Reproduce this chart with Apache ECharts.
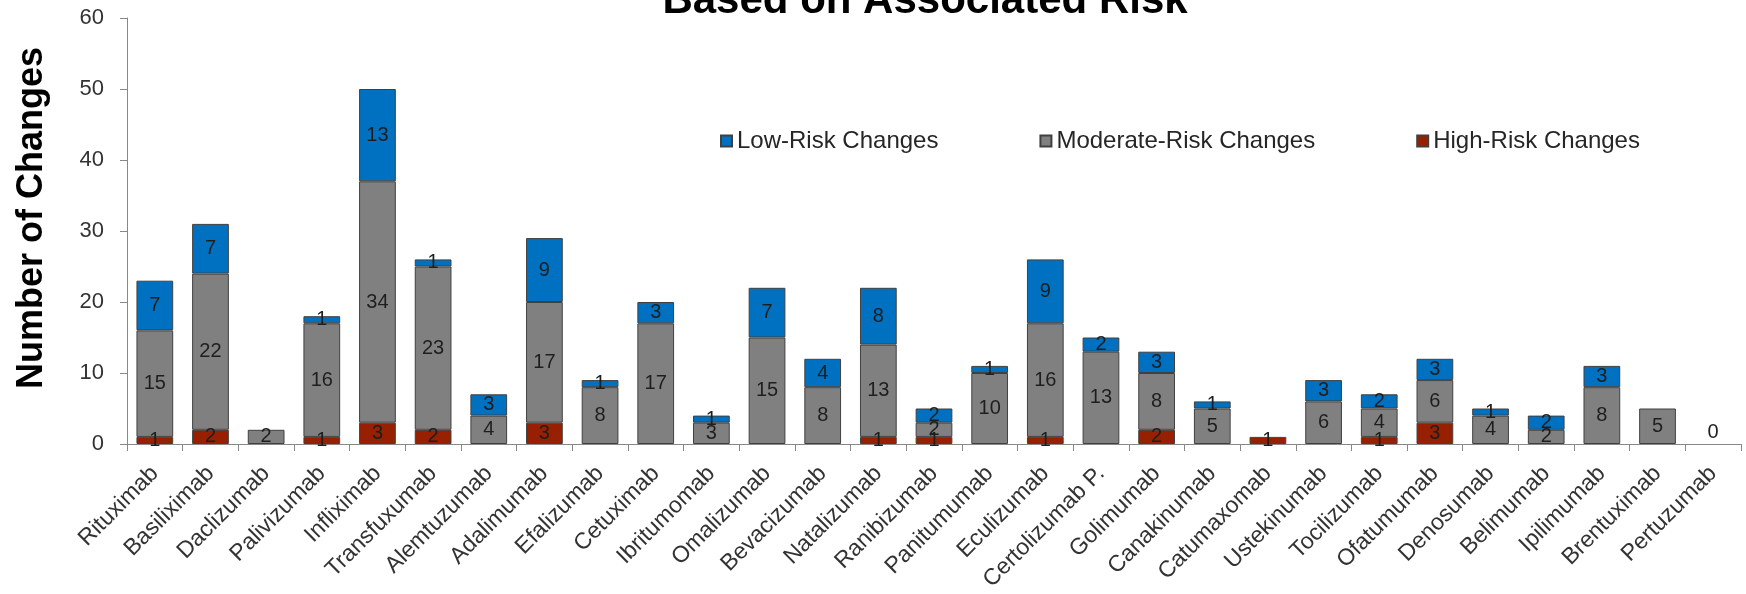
<!DOCTYPE html>
<html>
<head>
<meta charset="utf-8">
<script src="https://cdn.jsdelivr.net/npm/echarts@6/dist/echarts.min.js"></script>
<style>
  html, body { margin: 0; padding: 0; background: #fff; }
  #chart { width: 1746px; height: 594px; }
</style>
</head>
<body>
<div id="chart"></div>
<script>
// Antibodies, in display order
const categories = [
  'Rituximab', 'Basiliximab', 'Daclizumab', 'Palivizumab', 'Infliximab',
  'Transfuxumab', 'Alemtuzumab', 'Adalimumab', 'Efalizumab', 'Cetuximab',
  'Ibritumomab', 'Omalizumab', 'Bevacizumab', 'Natalizumab', 'Ranibizumab',
  'Panitumumab', 'Eculizumab', 'Certolizumab P.', 'Golimumab', 'Canakinumab',
  'Catumaxomab', 'Ustekinumab', 'Tocilizumab', 'Ofatumumab', 'Denosumab',
  'Belimumab', 'Ipilimumab', 'Brentuximab', 'Pertuzumab'
];

// Number of manufacturing changes per risk class
const lowRisk = [7, 7, 0, 1, 13, 1, 3, 9, 1, 3, 1, 7, 4, 8, 2, 1, 9, 2, 3, 1, 0, 3, 2, 3, 1, 2, 3, 0, 0];
const moderateRisk = [15, 22, 2, 16, 34, 23, 4, 17, 8, 17, 3, 15, 8, 13, 2, 10, 16, 13, 8, 5, 0, 6, 4, 6, 4, 2, 8, 5, 0];
const highRisk = [1, 2, 0, 1, 3, 2, 0, 3, 0, 0, 0, 0, 0, 1, 1, 0, 1, 0, 2, 0, 1, 0, 1, 3, 0, 0, 0, 0, 0];

const yTicks = { min: 0, max: 60, interval: 10 };

const FONT = '"Liberation Sans", Arial, sans-serif';
const COLORS = { low: '#0070C0', moderate: '#808080', high: '#962000' };

const totals = categories.map((_, i) => lowRisk[i] + moderateRisk[i] + highRisk[i]);

// empty segments get no outline; a product without any change still shows "0"
function toItems(values, showZeroTotal) {
  return values.map((v, i) => {
    if (v !== 0) return v;
    const item = { value: v, itemStyle: { borderWidth: 0 } };
    if (showZeroTotal && totals[i] === 0) {
      item.label = { position: 'top', distance: 2, formatter: '{c}' };
    }
    return item;
  });
}

const valueLabel = {
  show: true,
  position: 'inside',
  fontFamily: FONT,
  fontSize: 20,
  color: '#1e1e1e',
  formatter: p => (p.value ? String(p.value) : '')
};

function barSeries(name, data, color) {
  return {
    name: name,
    type: 'bar',
    stack: 'changes',
    data: data,
    barCategoryGap: '34%',
    itemStyle: { color: color, borderColor: '#404040', borderWidth: 1 },
    label: valueLabel,
    emphasis: { disabled: true }
  };
}

const chart = echarts.init(document.getElementById('chart'), null, { renderer: 'canvas' });

chart.setOption({
  animation: false,
  backgroundColor: '#ffffff',
  grid: { left: 127, right: 5, top: 18, bottom: 150, containLabel: false },
  legend: {
    data: ['Low-Risk Changes', 'Moderate-Risk Changes', 'High-Risk Changes'],
    left: 720,
    top: 129,
    padding: 0,
    icon: 'rect',
    itemWidth: 11,
    itemHeight: 11,
    itemGap: 101,
    textStyle: { fontFamily: FONT, fontSize: 24, color: '#262626', lineHeight: 24 }
  },
  xAxis: {
    type: 'category',
    data: categories,
    axisLine: { lineStyle: { color: '#888888', width: 1 } },
    axisTick: { show: true, length: 7, lineStyle: { color: '#888888' } },
    axisLabel: {
      interval: 0,
      rotate: 45,
      margin: 26,
      fontFamily: FONT,
      fontSize: 23,
      color: '#333333'
    },
    splitLine: { show: false }
  },
  yAxis: {
    type: 'value',
    min: yTicks.min,
    max: yTicks.max,
    interval: yTicks.interval,
    axisLine: { show: true, lineStyle: { color: '#888888', width: 1 } },
    axisTick: { show: true, length: 7, lineStyle: { color: '#888888' } },
    axisLabel: { fontFamily: FONT, fontSize: 22, color: '#333333', margin: 23 },
    splitLine: { show: false }
  },
  graphic: [
    {
      type: 'text',
      x: 925,
      y: 1,
      style: {
        text: 'Based on Associated Risk',
        align: 'center',
        verticalAlign: 'middle',
        fontFamily: FONT,
        fontWeight: 'bold',
        fontSize: 42,
        fill: '#000000'
      }
    },
    {
      type: 'text',
      x: 32,
      y: 218,
      rotation: Math.PI / 2,
      style: {
        text: 'Number of Changes',
        align: 'center',
        verticalAlign: 'middle',
        fontFamily: FONT,
        fontWeight: 'bold',
        fontSize: 36,
        fill: '#000000'
      }
    }
  ],
  series: [
    barSeries('High-Risk Changes', toItems(highRisk, false), COLORS.high),
    barSeries('Moderate-Risk Changes', toItems(moderateRisk, true), COLORS.moderate),
    barSeries('Low-Risk Changes', toItems(lowRisk, false), COLORS.low)
  ]
});
</script>
</body>
</html>
